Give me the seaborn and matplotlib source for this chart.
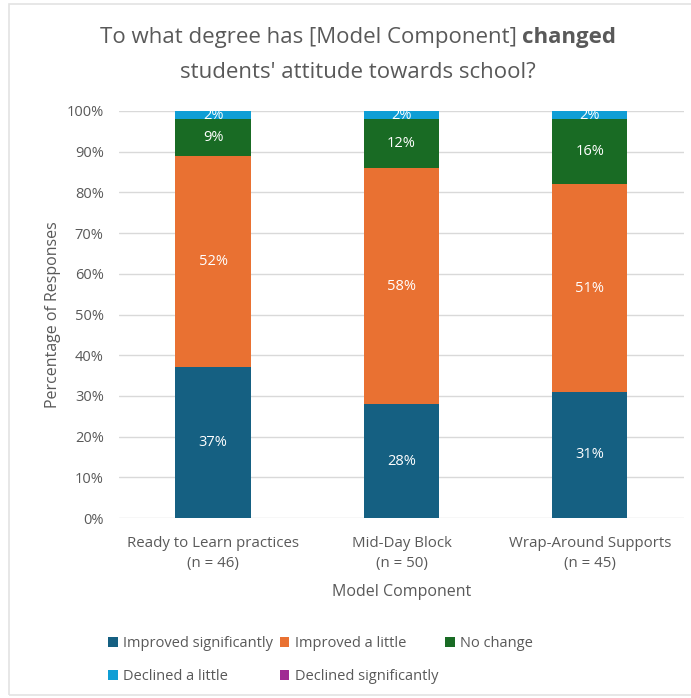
import matplotlib
matplotlib.use("Agg")
import matplotlib.pyplot as plt
from matplotlib.patches import Patch, Rectangle
import seaborn as sns
import pandas as pd
import numpy as np

# Survey results (percent of responses)
components = ["Ready to Learn practices", "Mid-Day Block", "Wrap-Around Supports"]
n_counts = [46, 50, 45]
improved_significantly = [37, 28, 31]
improved_a_little = [52, 58, 51]
no_change = [9, 12, 16]
declined_a_little = [2, 2, 2]
declined_significantly = [0, 0, 0]

series_names = ["Improved significantly", "Improved a little", "No change",
                "Declined a little", "Declined significantly"]
series_values = [improved_significantly, improved_a_little, no_change,
                 declined_a_little, declined_significantly]
series_colors = ["#156082", "#E97132", "#196B24", "#0F9ED5", "#A02B93"]

tick_labels = [f"{c}\n(n = {n})" for c, n in zip(components, n_counts)]

sns.set_theme(style="white")
plt.rcParams["font.family"] = ["Open Sans", "DejaVu Sans"]
text_gray = "#595959"

fig = plt.figure(figsize=(6.91, 6.98), dpi=100)
W, H = 691, 698
ax = fig.add_axes([119 / W, 1 - 518 / H, 565 / W, 407 / H])

# Outer chart border
fig.patches.append(Rectangle((9 / W, 1 - 695 / H), (720 - 9) / W, (695 - 4) / H,
                             transform=fig.transFigure, fill=False,
                             edgecolor="#e3e3e3", linewidth=1.2, zorder=0))

df = pd.DataFrame({"component": tick_labels})
bottom = np.zeros(len(components))
for name, vals, col in zip(series_names, series_values, series_colors):
    vals = np.asarray(vals, dtype=float)
    df["value"] = vals
    sns.barplot(data=df, x="component", y="value", color=col, width=0.4,
                bottom=bottom, ax=ax, zorder=3, saturation=1, linewidth=0,
                errorbar=None)
    for i, v in enumerate(vals):
        if v > 0:
            ax.text(i, bottom[i] + v / 2, f"{int(v)}%", ha="center", va="center",
                    color="white", fontsize=10.5, zorder=5)
    bottom = bottom + vals

ax.set_ylim(0, 100)
ax.set_xlim(-0.5, 2.5)
ax.set_yticks(range(0, 101, 10))
ax.set_yticklabels([f"{t}%" for t in range(0, 101, 10)], color=text_gray, fontsize=10.5)
ax.set_xticks(range(len(components)))
ax.set_xticklabels(tick_labels, color=text_gray, fontsize=10.8, linespacing=1.45)
ax.tick_params(axis="y", length=0, pad=11)
ax.tick_params(axis="x", length=0, pad=13)
ax.yaxis.grid(True, color="#d9d9d9", linewidth=1, zorder=0)
ax.set_axisbelow(True)
for s in ax.spines.values():
    s.set_visible(False)
ax.set_xlabel("Model Component", color=text_gray, fontsize=11.5, labelpad=9)
ax.set_ylabel("Percentage of Responses", color=text_gray, fontsize=11.5, labelpad=4)

# Two-line title with a bold word on the first line
cx = 358 / W
fig.canvas.draw()
renderer = fig.canvas.get_renderer()
part_a = fig.text(0, 1 - 38 / H, "To what degree has [Model Component] ",
                  fontsize=16, color=text_gray, va="center", ha="left")
part_b = fig.text(0, 1 - 38 / H, "changed", fontsize=16, color=text_gray,
                  fontweight="bold", va="center", ha="left")
wa = part_a.get_window_extent(renderer).width / fig.bbox.width
wb = part_b.get_window_extent(renderer).width / fig.bbox.width
x0 = cx - (wa + wb) / 2
part_a.set_x(x0)
part_b.set_x(x0 + wa)
fig.text(cx, 1 - 72 / H, "students' attitude towards school?", fontsize=16,
         color=text_gray, va="center", ha="center")

# Legend laid out row by row
handles = [Patch(facecolor=c, edgecolor="none") for c in series_colors]
order = [0, 3, 1, 4, 2]
leg = fig.legend([handles[i] for i in order], [series_names[i] for i in order],
                 loc="center left", bbox_to_anchor=(95 / W, 1 - 660 / H),
                 ncol=3, frameon=False, fontsize=10.5, labelcolor=text_gray,
                 handlelength=0.65, handleheight=0.65, handletextpad=0.35,
                 columnspacing=0.5, labelspacing=1.25)

fig.savefig("out.png", dpi=100, facecolor="white")
